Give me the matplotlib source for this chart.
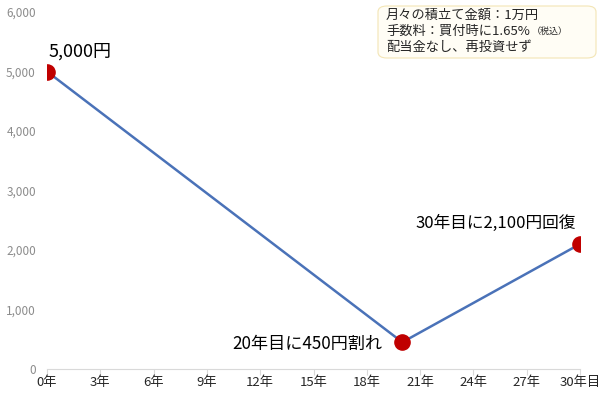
import matplotlib

matplotlib.use("Agg")
import matplotlib.pyplot as plt
from matplotlib.patches import FancyBboxPatch
from matplotlib.ticker import FuncFormatter

plt.rcParams["font.family"] = ["Noto Sans CJK JP", "DejaVu Sans"]

# data
years = [0, 20, 30]
values = [5000, 450, 2100]
point_labels = ["5,000円", "20年目に450円割れ", "30年目に2,100円回復"]
xticks = [0, 3, 6, 9, 12, 15, 18, 21, 24, 27, 30]
yticks = [0, 1000, 2000, 3000, 4000, 5000, 6000]
note_lines = ["月々の積立て金額：1万円", "手数料：買付時に1.65%", "配当金なし、再投資せず"]
note_small = "（税込）"

W, H = 600, 394
fig = plt.figure(figsize=(W / 100, H / 100), dpi=100)
ax = fig.add_axes([47 / W, 25 / H, 533 / W, 357 / H])

ax.plot(years, values, color="#4a72b8", linewidth=1.8, zorder=2)
ax.scatter(years, values, s=120, color="#c00000", zorder=3)

ax.set_xlim(0, 30)
ax.set_ylim(0, 6000)
ax.set_xticks(xticks)
ax.set_xticklabels([f"{x}年" for x in xticks[:-1]] + ["30年目"])
ax.set_yticks(yticks)
ax.yaxis.set_major_formatter(FuncFormatter(lambda v, _: f"{int(v):,}"))

for side in ["top", "right", "left"]:
    ax.spines[side].set_visible(False)
ax.spines["bottom"].set_color("#d9d9d9")
ax.tick_params(axis="y", length=0, labelsize=8.5, labelcolor="#8c8c8c", pad=8)
ax.tick_params(axis="x", length=4, color="#d9d9d9", labelsize=9.5,
               labelcolor="#262626", pad=1)

ax.annotate(point_labels[0], (years[0], values[0]), xytext=(1, 8),
            textcoords="offset points", fontsize=13, ha="left", va="bottom")
ax.annotate(point_labels[1], (years[1], values[1]), xytext=(-14, -1),
            textcoords="offset points", fontsize=12.3, ha="right", va="center")
ax.annotate(point_labels[2], (years[2], values[2]), xytext=(-3, 9),
            textcoords="offset points", fontsize=12, ha="right", va="bottom")

# note box
box = FancyBboxPatch((378 / W, 1 - 58 / H), 218 / W, 52 / H,
                     boxstyle="round,pad=0,rounding_size=0.015",
                     transform=fig.transFigure, facecolor="#fffdf5",
                     edgecolor="#f3e5b5", linewidth=0.8)
fig.add_artist(box)
for i, line in enumerate(note_lines):
    fig.text(386 / W, 1 - (15 + 16 * i) / H, line, fontsize=9.5,
             ha="left", va="center", color="#262626")
fig.canvas.draw()
bb = fig.texts[1].get_window_extent()
fig.text(bb.x1 / W + 2 / W, 1 - 31 / H, note_small, fontsize=6.5,
         ha="left", va="center", color="#262626")

fig.savefig("out.png", dpi=100)
